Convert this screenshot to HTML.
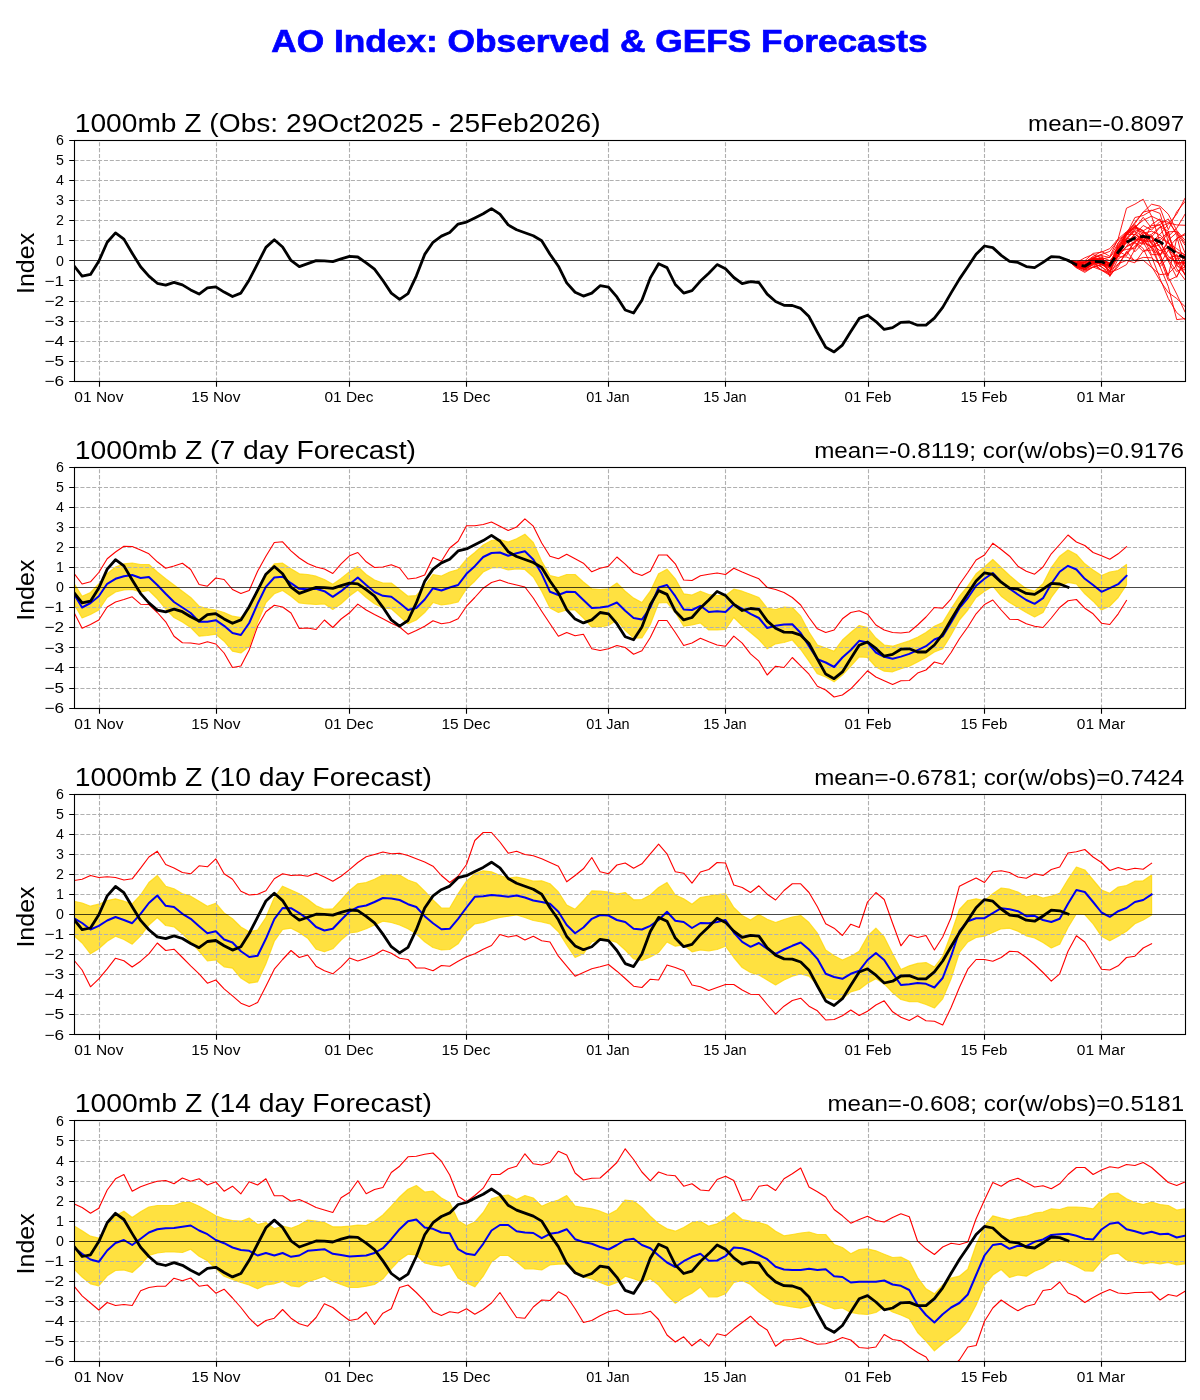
<!DOCTYPE html>
<html><head><meta charset="utf-8"><title>AO Index</title><style>html,body{margin:0;padding:0;background:#fff}svg{display:block;will-change:transform}</style></head><body>
<svg width="1200" height="1400" viewBox="0 0 1200 1400" font-family="'Liberation Sans', sans-serif">
<rect width="1200" height="1400" fill="#fff"/>
<defs>
<clipPath id="c0"><rect x="74.5" y="140.0" width="1111.0" height="240.8"/></clipPath>
<clipPath id="c1"><rect x="74.5" y="466.8" width="1111.0" height="240.8"/></clipPath>
<clipPath id="c2"><rect x="74.5" y="793.6" width="1111.0" height="240.8"/></clipPath>
<clipPath id="c3"><rect x="74.5" y="1120.4" width="1111.0" height="240.8"/></clipPath>
</defs>
<text x="599.50" y="51.50" font-size="32.08" text-anchor="middle" textLength="656.4" lengthAdjust="spacingAndGlyphs" fill="#0000ff" font-weight="bold" stroke="#0000ff" stroke-width="0.7">AO Index: Observed &amp; GEFS Forecasts</text>
<g clip-path="url(#c0)">
</g>
<path d="M74.5 361.50H1185.5M74.5 341.50H1185.5M74.5 321.50H1185.5M74.5 301.50H1185.5M74.5 280.50H1185.5M74.5 240.50H1185.5M74.5 220.50H1185.5M74.5 200.50H1185.5M74.5 180.50H1185.5M74.5 160.50H1185.5M99.50 381.50V140.50M216.50 381.50V140.50M349.50 381.50V140.50M466.50 381.50V140.50M608.50 381.50V140.50M725.50 381.50V140.50M868.50 381.50V140.50M984.50 381.50V140.50M1101.50 381.50V140.50" stroke="#b0b0b0" stroke-width="1.11" stroke-dasharray="4.1 1.78" fill="none"/>
<g clip-path="url(#c0)">
<polyline points="1068.0,260.4 1076.4,266.8 1084.8,266.8 1093.1,262.8 1101.5,267.0 1109.8,272.0 1118.2,256.2 1126.5,239.5 1134.9,243.3 1143.2,251.4 1151.6,247.0 1160.0,244.9 1168.3,231.9 1176.7,231.3 1185.0,242.9" fill="none" stroke="#ff0000" stroke-width="0.9" stroke-linejoin="round" stroke-linecap="square"/>
<polyline points="1068.0,260.4 1076.4,263.0 1084.8,264.0 1093.1,261.0 1101.5,264.4 1109.8,268.4 1118.2,254.4 1126.5,246.4 1134.9,241.7 1143.2,237.7 1151.6,234.3 1160.0,226.9 1168.3,231.1 1176.7,264.0 1185.0,260.6" fill="none" stroke="#ff0000" stroke-width="0.9" stroke-linejoin="round" stroke-linecap="square"/>
<polyline points="1068.0,260.4 1076.4,267.8 1084.8,272.4 1093.1,267.0 1101.5,270.2 1109.8,274.2 1118.2,244.7 1126.5,234.9 1134.9,225.7 1143.2,235.1 1151.6,240.7 1160.0,237.3 1168.3,243.5 1176.7,248.6 1185.0,255.2" fill="none" stroke="#ff0000" stroke-width="0.9" stroke-linejoin="round" stroke-linecap="square"/>
<polyline points="1068.0,260.4 1076.4,266.4 1084.8,269.4 1093.1,260.4 1101.5,261.6 1109.8,263.4 1118.2,250.0 1126.5,234.3 1134.9,234.5 1143.2,225.5 1151.6,230.1 1160.0,221.5 1168.3,221.9 1176.7,232.7 1185.0,253.0" fill="none" stroke="#ff0000" stroke-width="0.9" stroke-linejoin="round" stroke-linecap="square"/>
<polyline points="1068.0,260.4 1076.4,263.8 1084.8,261.6 1093.1,258.0 1101.5,255.6 1109.8,257.6 1118.2,243.1 1126.5,231.9 1134.9,227.3 1143.2,231.1 1151.6,243.5 1160.0,250.8 1168.3,247.6 1176.7,238.3 1185.0,234.9" fill="none" stroke="#ff0000" stroke-width="0.9" stroke-linejoin="round" stroke-linecap="square"/>
<polyline points="1068.0,260.4 1076.4,263.2 1084.8,262.4 1093.1,257.4 1101.5,254.4 1109.8,251.4 1118.2,239.9 1126.5,234.1 1134.9,217.5 1143.2,215.5 1151.6,210.6 1160.0,207.8 1168.3,229.7 1176.7,211.8 1185.0,201.6" fill="none" stroke="#ff0000" stroke-width="0.9" stroke-linejoin="round" stroke-linecap="square"/>
<polyline points="1068.0,260.4 1076.4,264.4 1084.8,265.0 1093.1,262.2 1101.5,262.6 1109.8,265.6 1118.2,246.8 1126.5,232.5 1134.9,228.7 1143.2,217.3 1151.6,228.1 1160.0,224.5 1168.3,218.9 1176.7,235.3 1185.0,268.4" fill="none" stroke="#ff0000" stroke-width="0.9" stroke-linejoin="round" stroke-linecap="square"/>
<polyline points="1068.0,260.4 1076.4,266.6 1084.8,267.2 1093.1,259.0 1101.5,261.6 1109.8,266.0 1118.2,249.6 1126.5,240.3 1134.9,251.8 1143.2,242.9 1151.6,224.5 1160.0,218.9 1168.3,236.9 1176.7,252.4 1185.0,256.8" fill="none" stroke="#ff0000" stroke-width="0.9" stroke-linejoin="round" stroke-linecap="square"/>
<polyline points="1068.0,260.4 1076.4,261.2 1084.8,260.8 1093.1,253.4 1101.5,252.2 1109.8,248.6 1118.2,238.9 1126.5,231.7 1134.9,223.7 1143.2,212.0 1151.6,210.2 1160.0,213.4 1168.3,242.1 1176.7,260.4 1185.0,274.8" fill="none" stroke="#ff0000" stroke-width="0.9" stroke-linejoin="round" stroke-linecap="square"/>
<polyline points="1068.0,260.4 1076.4,265.6 1084.8,267.6 1093.1,261.0 1101.5,260.6 1109.8,266.2 1118.2,252.2 1126.5,239.5 1134.9,229.7 1143.2,232.3 1151.6,237.5 1160.0,255.4 1168.3,240.1 1176.7,232.7 1185.0,245.1" fill="none" stroke="#ff0000" stroke-width="0.9" stroke-linejoin="round" stroke-linecap="square"/>
<polyline points="1068.0,260.4 1076.4,267.4 1084.8,269.2 1093.1,263.6 1101.5,257.4 1109.8,260.6 1118.2,251.0 1126.5,255.8 1134.9,240.1 1143.2,236.9 1151.6,254.6 1160.0,254.8 1168.3,275.7 1176.7,238.7 1185.0,233.5" fill="none" stroke="#ff0000" stroke-width="0.9" stroke-linejoin="round" stroke-linecap="square"/>
<polyline points="1068.0,260.4 1076.4,264.8 1084.8,269.8 1093.1,264.8 1101.5,270.0 1109.8,272.6 1118.2,269.2 1126.5,264.6 1134.9,249.4 1143.2,234.3 1151.6,248.2 1160.0,266.6 1168.3,258.0 1176.7,255.2 1185.0,275.0" fill="none" stroke="#ff0000" stroke-width="0.9" stroke-linejoin="round" stroke-linecap="square"/>
<polyline points="1068.0,260.4 1076.4,267.2 1084.8,271.2 1093.1,267.2 1101.5,264.6 1109.8,266.4 1118.2,242.9 1126.5,233.5 1134.9,230.9 1143.2,237.3 1151.6,241.3 1160.0,258.2 1168.3,280.5 1176.7,276.5 1185.0,261.8" fill="none" stroke="#ff0000" stroke-width="0.9" stroke-linejoin="round" stroke-linecap="square"/>
<polyline points="1068.0,260.4 1076.4,262.8 1084.8,262.8 1093.1,259.6 1101.5,259.0 1109.8,264.8 1118.2,256.8 1126.5,257.0 1134.9,260.4 1143.2,257.4 1151.6,257.8 1160.0,264.4 1168.3,250.0 1176.7,256.4 1185.0,255.8" fill="none" stroke="#ff0000" stroke-width="0.9" stroke-linejoin="round" stroke-linecap="square"/>
<polyline points="1068.0,260.4 1076.4,264.6 1084.8,269.2 1093.1,262.4 1101.5,264.6 1109.8,264.0 1118.2,249.0 1126.5,232.9 1134.9,224.5 1143.2,239.7 1151.6,235.9 1160.0,246.8 1168.3,259.2 1176.7,271.6 1185.0,266.6" fill="none" stroke="#ff0000" stroke-width="0.9" stroke-linejoin="round" stroke-linecap="square"/>
<polyline points="1068.0,260.4 1076.4,263.2 1084.8,266.6 1093.1,262.8 1101.5,270.2 1109.8,275.4 1118.2,259.0 1126.5,253.6 1134.9,246.0 1143.2,242.1 1151.6,235.5 1160.0,247.8 1168.3,261.0 1176.7,277.3 1185.0,258.4" fill="none" stroke="#ff0000" stroke-width="0.9" stroke-linejoin="round" stroke-linecap="square"/>
<polyline points="1068.0,260.4 1076.4,264.0 1084.8,264.4 1093.1,259.4 1101.5,258.6 1109.8,263.6 1118.2,251.8 1126.5,249.4 1134.9,248.2 1143.2,233.1 1151.6,231.3 1160.0,234.9 1168.3,242.9 1176.7,251.8 1185.0,254.6" fill="none" stroke="#ff0000" stroke-width="0.9" stroke-linejoin="round" stroke-linecap="square"/>
<polyline points="1068.0,260.4 1076.4,266.2 1084.8,267.2 1093.1,263.8 1101.5,266.6 1109.8,275.2 1118.2,266.6 1126.5,251.4 1134.9,261.2 1143.2,260.2 1151.6,267.4 1160.0,274.6 1168.3,273.8 1176.7,265.4 1185.0,270.0" fill="none" stroke="#ff0000" stroke-width="0.9" stroke-linejoin="round" stroke-linecap="square"/>
<polyline points="1068.0,260.4 1076.4,266.4 1084.8,268.2 1093.1,261.2 1101.5,262.4 1109.8,271.2 1118.2,263.8 1126.5,260.4 1134.9,262.8 1143.2,251.2 1151.6,250.0 1160.0,255.0 1168.3,241.5 1176.7,259.2 1185.0,256.0" fill="none" stroke="#ff0000" stroke-width="0.9" stroke-linejoin="round" stroke-linecap="square"/>
<polyline points="1068.0,260.4 1076.4,266.0 1084.8,270.2 1093.1,266.8 1101.5,265.0 1109.8,264.6 1118.2,257.0 1126.5,240.7 1134.9,238.9 1143.2,240.3 1151.6,248.0 1160.0,254.0 1168.3,277.5 1176.7,294.1 1185.0,312.0" fill="none" stroke="#ff0000" stroke-width="0.9" stroke-linejoin="round" stroke-linecap="square"/>
<polyline points="1068.0,260.4 1076.4,262.6 1084.8,257.8 1093.1,254.4 1101.5,258.4 1109.8,264.2 1118.2,255.4 1126.5,233.3 1134.9,226.1 1143.2,230.9 1151.6,225.5 1160.0,224.9 1168.3,250.0 1176.7,265.0 1185.0,273.8" fill="none" stroke="#ff0000" stroke-width="0.9" stroke-linejoin="round" stroke-linecap="square"/>
<polyline points="1068.0,260.4 1076.4,265.4 1084.8,267.2 1093.1,261.8 1101.5,263.6 1109.8,271.6 1118.2,250.8 1126.5,238.5 1134.9,231.5 1143.2,242.7 1151.6,246.8 1160.0,241.1 1168.3,260.2 1176.7,254.2 1185.0,266.4" fill="none" stroke="#ff0000" stroke-width="0.9" stroke-linejoin="round" stroke-linecap="square"/>
<polyline points="1068.0,260.4 1076.4,265.0 1084.8,265.8 1093.1,258.4 1101.5,259.2 1109.8,257.2 1118.2,247.8 1126.5,243.3 1134.9,233.9 1143.2,240.9 1151.6,247.0 1160.0,240.3 1168.3,231.5 1176.7,264.2 1185.0,263.4" fill="none" stroke="#ff0000" stroke-width="0.9" stroke-linejoin="round" stroke-linecap="square"/>
<polyline points="1068.0,260.4 1076.4,261.4 1084.8,261.8 1093.1,258.6 1101.5,259.0 1109.8,267.8 1118.2,255.6 1126.5,246.8 1134.9,242.5 1143.2,231.5 1151.6,236.7 1160.0,255.6 1168.3,246.6 1176.7,268.6 1185.0,279.7" fill="none" stroke="#ff0000" stroke-width="0.9" stroke-linejoin="round" stroke-linecap="square"/>
<polyline points="1068.0,260.4 1076.4,266.0 1084.8,269.2 1093.1,264.6 1101.5,258.6 1109.8,265.2 1118.2,252.6 1126.5,235.7 1134.9,226.9 1143.2,220.3 1151.6,216.1 1160.0,242.1 1168.3,256.4 1176.7,262.6 1185.0,262.2" fill="none" stroke="#ff0000" stroke-width="0.9" stroke-linejoin="round" stroke-linecap="square"/>
<polyline points="1068.0,260.4 1076.4,263.2 1084.8,264.0 1093.1,259.2 1101.5,259.4 1109.8,262.8 1118.2,246.2 1126.5,238.3 1134.9,239.5 1143.2,244.3 1151.6,236.9 1160.0,227.3 1168.3,222.9 1176.7,224.9 1185.0,225.3" fill="none" stroke="#ff0000" stroke-width="0.9" stroke-linejoin="round" stroke-linecap="square"/>
<polyline points="1068.0,260.4 1076.4,263.4 1084.8,262.4 1093.1,256.4 1101.5,251.4 1109.8,256.4 1118.2,238.7 1126.5,208.2 1134.9,204.2 1143.2,199.2 1151.6,216.3 1160.0,220.3 1168.3,236.3 1176.7,228.3 1185.0,214.2" fill="none" stroke="#ff0000" stroke-width="0.9" stroke-linejoin="round" stroke-linecap="square"/>
<polyline points="1068.0,260.4 1076.4,266.4 1084.8,267.4 1093.1,260.4 1101.5,262.4 1109.8,268.4 1118.2,256.4 1126.5,246.4 1134.9,234.3 1143.2,240.3 1151.6,242.3 1160.0,234.3 1168.3,224.3 1176.7,214.2 1185.0,198.2" fill="none" stroke="#ff0000" stroke-width="0.9" stroke-linejoin="round" stroke-linecap="square"/>
<polyline points="1068.0,260.4 1076.4,264.4 1084.8,266.4 1093.1,260.4 1101.5,258.4 1109.8,264.4 1118.2,248.4 1126.5,234.3 1134.9,222.3 1143.2,212.2 1151.6,204.2 1160.0,206.2 1168.3,214.2 1176.7,230.3 1185.0,240.3" fill="none" stroke="#ff0000" stroke-width="0.9" stroke-linejoin="round" stroke-linecap="square"/>
<polyline points="1068.0,260.4 1076.4,264.4 1084.8,265.4 1093.1,262.4 1101.5,264.4 1109.8,270.4 1118.2,254.4 1126.5,242.3 1134.9,236.3 1143.2,242.3 1151.6,256.4 1160.0,278.5 1168.3,298.5 1176.7,312.6 1185.0,319.6" fill="none" stroke="#ff0000" stroke-width="0.9" stroke-linejoin="round" stroke-linecap="square"/>
<polyline points="1068.0,260.4 1076.4,266.4 1084.8,269.4 1093.1,263.4 1101.5,262.4 1109.8,266.4 1118.2,250.4 1126.5,238.3 1134.9,228.3 1143.2,230.3 1151.6,244.3 1160.0,266.4 1168.3,286.5 1176.7,319.6 1185.0,318.6" fill="none" stroke="#ff0000" stroke-width="0.9" stroke-linejoin="round" stroke-linecap="square"/>
<polyline points="1068.0,260.4 1076.4,262.4 1084.8,264.4 1093.1,258.4 1101.5,254.4 1109.8,276.5 1118.2,264.4 1126.5,252.4 1134.9,242.3 1143.2,248.4 1151.6,266.4 1160.0,280.5 1168.3,292.5 1176.7,298.5 1185.0,306.6" fill="none" stroke="#ff0000" stroke-width="0.9" stroke-linejoin="round" stroke-linecap="square"/>
<path d="M74.5 260.50H1185.5" stroke="#000" stroke-width="0.72"/>
<polyline points="73.8,265.6 82.1,276.1 90.5,274.4 98.8,261.2 107.2,242.3 115.5,232.9 123.9,239.1 132.2,253.2 140.6,266.8 148.9,276.1 157.3,283.3 165.7,285.1 174.0,282.3 182.4,284.9 190.7,289.9 199.1,294.1 207.4,287.9 215.8,286.9 224.1,292.1 232.5,296.5 240.9,293.1 249.2,279.9 257.6,263.6 265.9,247.4 274.3,239.7 282.6,247.0 291.0,260.4 299.3,266.6 307.7,263.6 316.1,260.6 324.4,260.8 332.8,261.6 341.1,258.8 349.5,256.4 357.8,257.0 366.2,262.8 374.5,269.2 382.9,280.5 391.3,293.1 399.6,299.3 408.0,293.7 416.3,276.1 424.7,254.4 433.0,242.3 441.4,236.1 449.7,232.5 458.1,224.1 466.5,222.1 474.8,217.9 483.2,213.8 491.5,208.6 499.9,214.2 508.2,224.9 516.6,229.7 524.9,232.7 533.3,235.7 541.7,240.7 550.0,254.2 558.4,266.2 566.7,282.9 575.1,292.3 583.4,296.1 591.8,293.1 600.1,285.7 608.5,287.1 616.9,296.9 625.2,310.0 633.6,313.0 641.9,300.3 650.3,277.9 658.6,263.8 667.0,267.6 675.3,284.5 683.7,293.1 692.0,290.7 700.4,281.1 708.8,273.2 717.1,264.6 725.5,268.8 733.8,277.5 742.2,283.7 750.5,281.7 758.9,282.5 767.2,294.1 775.6,301.5 784.0,305.3 792.3,305.5 800.7,308.4 809.0,316.6 817.4,332.4 825.7,347.3 834.1,351.9 842.4,345.1 850.8,331.6 859.2,318.4 867.5,315.2 875.9,321.6 884.2,329.4 892.6,327.6 900.9,322.4 909.3,322.0 917.6,325.2 926.0,325.2 934.4,318.2 942.7,307.4 951.1,292.9 959.4,279.1 967.8,266.8 976.1,254.2 984.5,246.0 992.8,247.6 1001.2,255.4 1009.6,261.4 1017.9,262.4 1026.3,266.6 1034.6,267.6 1043.0,262.4 1051.3,256.6 1059.7,257.2 1068.0,260.4" fill="none" stroke="#000" stroke-width="2.8" stroke-linejoin="round" stroke-linecap="square"/>
<polyline points="1068.0,260.4 1076.4,264.8 1084.8,266.2 1093.1,261.2 1101.5,261.8 1109.8,265.4 1118.2,252.0 1126.5,242.3 1134.9,237.9 1143.2,236.3 1151.6,237.9 1160.0,241.9 1168.3,247.4 1176.7,253.6 1185.0,258.0" fill="none" stroke="#000" stroke-width="2.8" stroke-linejoin="round" stroke-dasharray="10.3 4.45"/>
</g>
 <rect x="74.5" y="140.5" width="1111.0" height="241.0" fill="none" stroke="#000" stroke-width="1.11"/>
<path d="M74.0 381.50h-4.8M74.0 361.50h-4.8M74.0 341.50h-4.8M74.0 321.50h-4.8M74.0 301.50h-4.8M74.0 280.50h-4.8M74.0 260.50h-4.8M74.0 240.50h-4.8M74.0 220.50h-4.8M74.0 200.50h-4.8M74.0 180.50h-4.8M74.0 160.50h-4.8M74.0 140.50h-4.8M99.50 382.00v4.8M216.50 382.00v4.8M349.50 382.00v4.8M466.50 382.00v4.8M608.50 382.00v4.8M725.50 382.00v4.8M868.50 382.00v4.8M984.50 382.00v4.8M1101.50 382.00v4.8" stroke="#000" stroke-width="1.11" fill="none"/>
<text x="64.00" y="385.90" font-size="14.58" text-anchor="end" textLength="19.6" lengthAdjust="spacingAndGlyphs" fill="#000">−6</text>
<text x="64.00" y="365.83" font-size="14.58" text-anchor="end" textLength="19.6" lengthAdjust="spacingAndGlyphs" fill="#000">−5</text>
<text x="64.00" y="345.77" font-size="14.58" text-anchor="end" textLength="19.6" lengthAdjust="spacingAndGlyphs" fill="#000">−4</text>
<text x="64.00" y="325.70" font-size="14.58" text-anchor="end" textLength="19.6" lengthAdjust="spacingAndGlyphs" fill="#000">−3</text>
<text x="64.00" y="305.63" font-size="14.58" text-anchor="end" textLength="19.6" lengthAdjust="spacingAndGlyphs" fill="#000">−2</text>
<text x="64.00" y="285.57" font-size="14.58" text-anchor="end" textLength="19.6" lengthAdjust="spacingAndGlyphs" fill="#000">−1</text>
<text x="64.00" y="265.50" font-size="14.58" text-anchor="end" textLength="7.9" lengthAdjust="spacingAndGlyphs" fill="#000">0</text>
<text x="64.00" y="245.43" font-size="14.58" text-anchor="end" textLength="7.9" lengthAdjust="spacingAndGlyphs" fill="#000">1</text>
<text x="64.00" y="225.37" font-size="14.58" text-anchor="end" textLength="7.9" lengthAdjust="spacingAndGlyphs" fill="#000">2</text>
<text x="64.00" y="205.30" font-size="14.58" text-anchor="end" textLength="7.9" lengthAdjust="spacingAndGlyphs" fill="#000">3</text>
<text x="64.00" y="185.23" font-size="14.58" text-anchor="end" textLength="7.9" lengthAdjust="spacingAndGlyphs" fill="#000">4</text>
<text x="64.00" y="165.17" font-size="14.58" text-anchor="end" textLength="7.9" lengthAdjust="spacingAndGlyphs" fill="#000">5</text>
<text x="64.00" y="145.10" font-size="14.58" text-anchor="end" textLength="7.9" lengthAdjust="spacingAndGlyphs" fill="#000">6</text>
<text x="98.90" y="402.10" font-size="14.58" text-anchor="middle" textLength="49.2" lengthAdjust="spacingAndGlyphs" fill="#000">01 Nov</text>
<text x="215.90" y="402.10" font-size="14.58" text-anchor="middle" textLength="49.2" lengthAdjust="spacingAndGlyphs" fill="#000">15 Nov</text>
<text x="348.90" y="402.10" font-size="14.58" text-anchor="middle" textLength="49.0" lengthAdjust="spacingAndGlyphs" fill="#000">01 Dec</text>
<text x="465.90" y="402.10" font-size="14.58" text-anchor="middle" textLength="49.0" lengthAdjust="spacingAndGlyphs" fill="#000">15 Dec</text>
<text x="607.90" y="402.10" font-size="14.58" text-anchor="middle" textLength="43.5" lengthAdjust="spacingAndGlyphs" fill="#000">01 Jan</text>
<text x="724.90" y="402.10" font-size="14.58" text-anchor="middle" textLength="43.5" lengthAdjust="spacingAndGlyphs" fill="#000">15 Jan</text>
<text x="867.90" y="402.10" font-size="14.58" text-anchor="middle" textLength="46.7" lengthAdjust="spacingAndGlyphs" fill="#000">01 Feb</text>
<text x="983.90" y="402.10" font-size="14.58" text-anchor="middle" textLength="46.7" lengthAdjust="spacingAndGlyphs" fill="#000">15 Feb</text>
<text x="1100.90" y="402.10" font-size="14.58" text-anchor="middle" textLength="48.3" lengthAdjust="spacingAndGlyphs" fill="#000">01 Mar</text>
<text x="34.20" y="263.40" font-size="23.33" text-anchor="middle" textLength="61.2" lengthAdjust="spacingAndGlyphs" fill="#000" transform="rotate(-90 34.20 263.40)">Index</text>
<text x="74.80" y="131.80" font-size="26.25" text-anchor="start" textLength="525.8" lengthAdjust="spacingAndGlyphs" fill="#000">1000mb Z (Obs: 29Oct2025 - 25Feb2026)</text>
<text x="1184.10" y="131.30" font-size="21.88" text-anchor="end" textLength="156.0" lengthAdjust="spacingAndGlyphs" fill="#000">mean=-0.8097</text>
<g clip-path="url(#c1)">
<polygon points="73.8,583.0 82.1,596.2 90.5,592.5 98.8,583.8 107.2,573.8 115.5,567.0 123.9,563.8 132.2,563.0 140.6,564.5 148.9,564.5 157.3,572.0 165.7,578.8 174.0,585.0 182.4,591.2 190.7,597.5 199.1,606.2 207.4,608.8 215.8,610.0 224.1,612.5 232.5,616.2 240.9,617.5 249.2,608.8 257.6,590.0 265.9,573.8 274.3,563.8 282.6,563.2 291.0,568.8 299.3,573.8 307.7,574.5 316.1,576.2 324.4,579.5 332.8,584.2 341.1,578.4 349.5,571.6 357.8,566.6 366.2,574.5 374.5,580.0 382.9,583.0 391.3,583.0 399.6,589.5 408.0,596.2 416.3,595.5 424.7,586.2 433.0,574.5 441.4,576.0 449.7,572.0 458.1,569.5 466.5,559.2 474.8,552.5 483.2,545.0 491.5,540.5 499.9,539.5 508.2,542.0 516.6,538.8 524.9,534.2 533.3,542.5 541.7,561.2 550.0,575.5 558.4,577.5 566.7,574.5 575.1,574.5 583.4,582.0 591.8,588.8 600.1,589.5 608.5,588.8 616.9,583.0 625.2,591.2 633.6,598.1 641.9,602.5 650.3,591.2 658.6,573.8 667.0,569.2 675.3,578.8 683.7,593.8 692.0,595.0 700.4,591.2 708.8,594.5 717.1,595.5 725.5,595.5 733.8,589.2 742.2,591.2 750.5,594.2 758.9,597.5 767.2,608.2 775.6,609.5 784.0,607.0 792.3,607.5 800.7,616.2 809.0,632.0 817.4,645.0 825.7,648.0 834.1,651.2 842.4,640.0 850.8,632.5 859.2,625.5 867.5,627.5 875.9,638.0 884.2,645.0 892.6,646.2 900.9,643.5 909.3,640.9 917.6,637.2 926.0,632.5 934.4,626.2 942.7,622.5 951.1,608.8 959.4,596.2 967.8,586.2 976.1,573.8 984.5,567.0 992.8,559.5 1001.2,567.5 1009.6,575.5 1017.9,582.5 1026.3,588.8 1034.6,591.2 1043.0,583.8 1051.3,567.5 1059.7,556.2 1068.0,550.0 1076.4,554.5 1084.8,563.8 1093.1,570.0 1101.5,575.5 1109.8,572.0 1118.2,570.5 1126.5,564.5 1126.5,585.0 1118.2,597.5 1109.8,606.2 1101.5,610.0 1093.1,601.2 1084.8,593.8 1076.4,583.8 1068.0,582.5 1059.7,586.2 1051.3,597.5 1043.0,612.5 1034.6,617.0 1026.3,612.5 1017.9,607.5 1009.6,602.5 1001.2,596.2 992.8,586.2 984.5,591.2 976.1,597.5 967.8,610.0 959.4,620.0 951.1,635.0 942.7,648.8 934.4,652.0 926.0,657.5 917.6,662.0 909.3,666.2 900.9,668.8 892.6,671.8 884.2,671.2 875.9,667.0 867.5,657.5 859.2,656.8 850.8,666.2 842.4,675.0 834.1,681.8 825.7,677.0 817.4,673.8 809.0,661.2 800.7,649.5 792.3,640.0 784.0,642.5 775.6,643.8 767.2,648.8 758.9,639.5 750.5,632.5 742.2,625.8 733.8,617.5 725.5,629.5 717.1,630.0 708.8,630.0 700.4,623.0 692.0,625.0 683.7,626.2 675.3,612.5 667.0,602.5 658.6,603.0 650.3,624.5 641.9,638.0 633.6,638.1 625.2,630.4 616.9,620.0 608.5,625.5 600.1,627.0 591.8,627.0 583.4,618.0 575.1,610.0 566.7,610.0 558.4,612.5 550.0,608.0 541.7,591.2 533.3,577.0 524.9,569.5 516.6,568.8 508.2,570.0 499.9,567.5 491.5,568.0 483.2,572.0 474.8,581.2 466.5,588.8 458.1,602.0 449.7,603.8 441.4,605.0 433.0,602.5 424.7,612.5 416.3,620.0 408.0,623.8 399.6,616.2 391.3,608.8 382.9,608.0 374.5,603.8 366.2,597.5 357.8,590.0 349.5,596.0 341.1,603.8 332.8,609.5 324.4,603.8 316.1,604.5 307.7,603.8 299.3,603.0 291.0,596.2 282.6,590.5 274.3,593.8 265.9,602.5 257.6,622.5 249.2,646.2 240.9,653.0 232.5,651.2 224.1,641.2 215.8,634.2 207.4,635.5 199.1,636.2 190.7,627.5 182.4,622.0 174.0,617.5 165.7,608.8 157.3,598.8 148.9,590.5 140.6,592.0 132.2,589.5 123.9,590.0 115.5,592.0 107.2,597.5 98.8,610.0 90.5,614.5 82.1,618.0 73.8,603.8" fill="#ffd700" fill-opacity="0.75" stroke="#ffd700" stroke-opacity="0.75" stroke-width="1.2" stroke-linejoin="round"/>
</g>
<path d="M74.5 688.50H1185.5M74.5 667.50H1185.5M74.5 647.50H1185.5M74.5 627.50H1185.5M74.5 607.50H1185.5M74.5 567.50H1185.5M74.5 547.50H1185.5M74.5 527.50H1185.5M74.5 507.50H1185.5M74.5 487.50H1185.5M99.50 708.50V467.50M216.50 708.50V467.50M349.50 708.50V467.50M466.50 708.50V467.50M608.50 708.50V467.50M725.50 708.50V467.50M868.50 708.50V467.50M984.50 708.50V467.50M1101.50 708.50V467.50" stroke="#b0b0b0" stroke-width="1.11" stroke-dasharray="4.1 1.78" fill="none"/>
<g clip-path="url(#c1)">
<polyline points="73.8,573.0 82.1,584.0 90.5,581.8 98.8,572.5 107.2,558.8 115.5,552.0 123.9,546.2 132.2,546.5 140.6,550.0 148.9,553.8 157.3,561.8 165.7,568.2 174.0,566.0 182.4,563.2 190.7,569.5 199.1,584.5 207.4,586.2 215.8,578.0 224.1,579.5 232.5,589.5 240.9,593.5 249.2,590.5 257.6,571.2 265.9,556.2 274.3,542.5 282.6,541.8 291.0,550.8 299.3,558.0 307.7,563.5 316.1,567.0 324.4,569.0 332.8,573.5 341.1,563.8 349.5,555.8 357.8,552.5 366.2,561.8 374.5,567.5 382.9,567.0 391.3,564.8 399.6,568.0 408.0,579.0 416.3,578.0 424.7,575.0 433.0,557.5 441.4,561.2 449.7,548.0 458.1,541.2 466.5,525.8 474.8,525.8 483.2,524.5 491.5,522.0 499.9,526.2 508.2,530.5 516.6,527.0 524.9,518.8 533.3,526.2 541.7,543.0 550.0,556.2 558.4,558.8 566.7,554.2 575.1,558.8 583.4,563.2 591.8,571.8 600.1,568.2 608.5,566.2 616.9,557.0 625.2,564.1 633.6,572.5 641.9,575.5 650.3,571.2 658.6,555.0 667.0,555.0 675.3,563.8 683.7,580.0 692.0,580.5 700.4,575.8 708.8,574.2 717.1,573.0 725.5,574.5 733.8,568.2 742.2,572.0 750.5,575.5 758.9,578.8 767.2,587.5 775.6,589.5 784.0,592.5 792.3,597.5 800.7,605.0 809.0,617.5 817.4,628.8 825.7,632.5 834.1,630.0 842.4,618.8 850.8,612.5 859.2,610.8 867.5,614.2 875.9,625.0 884.2,630.0 892.6,632.5 900.9,633.0 909.3,632.0 917.6,625.0 926.0,617.0 934.4,607.5 942.7,608.2 951.1,598.8 959.4,584.5 967.8,572.5 976.1,560.0 984.5,555.0 992.8,543.2 1001.2,549.5 1009.6,556.2 1017.9,566.2 1026.3,571.2 1034.6,574.2 1043.0,567.0 1051.3,553.8 1059.7,544.5 1068.0,535.0 1076.4,542.0 1084.8,545.5 1093.1,552.5 1101.5,555.8 1109.8,559.2 1118.2,553.8 1126.5,546.8" fill="none" stroke="#ff0000" stroke-width="1.1" stroke-linejoin="round" stroke-linecap="square"/>
<polyline points="73.8,612.0 82.1,628.2 90.5,624.5 98.8,620.0 107.2,607.0 115.5,602.0 123.9,599.5 132.2,596.8 140.6,604.2 148.9,604.5 157.3,612.5 165.7,621.8 174.0,636.2 182.4,642.8 190.7,643.0 199.1,644.2 207.4,641.8 215.8,644.0 224.1,653.0 232.5,667.5 240.9,666.0 249.2,650.0 257.6,626.2 265.9,611.8 274.3,605.2 282.6,607.0 291.0,613.0 299.3,628.5 307.7,628.0 316.1,629.5 324.4,620.0 332.8,627.5 341.1,619.0 349.5,612.8 357.8,604.1 366.2,610.0 374.5,614.5 382.9,618.8 391.3,623.2 399.6,627.0 408.0,634.2 416.3,630.5 424.7,626.2 433.0,620.8 441.4,623.8 449.7,622.5 458.1,618.8 466.5,606.2 474.8,597.5 483.2,588.2 491.5,582.5 499.9,580.0 508.2,583.0 516.6,585.0 524.9,587.0 533.3,598.0 541.7,611.2 550.0,623.8 558.4,636.2 566.7,632.5 575.1,635.8 583.4,634.2 591.8,648.8 600.1,650.5 608.5,648.8 616.9,645.5 625.2,647.5 633.6,654.2 641.9,650.8 650.3,637.5 658.6,620.5 667.0,620.5 675.3,632.5 683.7,645.5 692.0,643.0 700.4,638.2 708.8,641.8 717.1,645.0 725.5,646.2 733.8,636.2 742.2,643.2 750.5,653.8 758.9,661.2 767.2,675.0 775.6,666.2 784.0,667.5 792.3,657.5 800.7,665.8 809.0,674.2 817.4,686.2 825.7,690.0 834.1,697.0 842.4,695.0 850.8,688.8 859.2,680.0 867.5,670.8 875.9,677.0 884.2,680.8 892.6,684.5 900.9,680.8 909.3,680.5 917.6,673.1 926.0,670.0 934.4,662.0 942.7,664.2 951.1,652.5 959.4,638.8 967.8,627.0 976.1,613.8 984.5,604.5 992.8,600.0 1001.2,610.0 1009.6,619.2 1017.9,619.5 1026.3,623.8 1034.6,626.2 1043.0,627.5 1051.3,618.0 1059.7,607.5 1068.0,600.8 1076.4,599.5 1084.8,608.2 1093.1,613.8 1101.5,623.2 1109.8,624.5 1118.2,613.8 1126.5,600.5" fill="none" stroke="#ff0000" stroke-width="1.1" stroke-linejoin="round" stroke-linecap="square"/>
<polyline points="73.8,593.8 82.1,607.5 90.5,603.0 98.8,596.2 107.2,583.8 115.5,578.8 123.9,576.2 132.2,575.0 140.6,578.0 148.9,577.0 157.3,585.0 165.7,593.8 174.0,602.0 182.4,607.5 190.7,613.0 199.1,621.8 207.4,621.8 215.8,620.2 224.1,625.8 232.5,633.0 240.9,635.0 249.2,623.0 257.6,603.8 265.9,586.8 274.3,577.5 282.6,576.8 291.0,583.2 299.3,588.8 307.7,589.2 316.1,588.8 324.4,591.2 332.8,596.8 341.1,591.2 349.5,584.2 357.8,577.5 366.2,585.0 374.5,592.0 382.9,595.8 391.3,596.8 399.6,603.0 408.0,610.0 416.3,608.0 424.7,599.5 433.0,588.2 441.4,590.5 449.7,587.5 458.1,585.0 466.5,573.8 474.8,566.2 483.2,557.0 491.5,553.0 499.9,552.5 508.2,555.8 516.6,553.2 524.9,551.2 533.3,559.5 541.7,573.8 550.0,591.8 558.4,595.0 566.7,591.8 575.1,592.0 583.4,600.0 591.8,608.0 600.1,607.5 608.5,606.2 616.9,602.5 625.2,610.8 633.6,618.0 641.9,619.5 650.3,607.5 658.6,587.5 667.0,585.0 675.3,596.2 683.7,609.5 692.0,610.0 700.4,605.8 708.8,612.0 717.1,611.2 725.5,612.0 733.8,604.2 742.2,608.8 750.5,613.8 758.9,618.0 767.2,628.0 775.6,625.8 784.0,624.5 792.3,624.2 800.7,633.0 809.0,646.2 817.4,659.2 825.7,662.5 834.1,667.0 842.4,657.5 850.8,650.0 859.2,640.8 867.5,642.5 875.9,652.5 884.2,656.8 892.6,658.8 900.9,656.6 909.3,653.9 917.6,650.1 926.0,646.2 934.4,639.5 942.7,636.2 951.1,622.5 959.4,608.2 967.8,598.0 976.1,585.8 984.5,578.8 992.8,573.0 1001.2,582.0 1009.6,588.8 1017.9,594.5 1026.3,600.0 1034.6,603.8 1043.0,598.2 1051.3,583.8 1059.7,571.8 1068.0,565.8 1076.4,569.5 1084.8,578.8 1093.1,585.0 1101.5,591.8 1109.8,588.2 1118.2,584.2 1126.5,575.8" fill="none" stroke="#0000f0" stroke-width="2.0" stroke-linejoin="round" stroke-linecap="square"/>
<path d="M74.5 587.50H1185.5" stroke="#000" stroke-width="0.72"/>
<polyline points="73.8,592.4 82.1,602.9 90.5,601.2 98.8,588.0 107.2,569.1 115.5,559.7 123.9,565.9 132.2,580.0 140.6,593.6 148.9,602.9 157.3,610.1 165.7,611.9 174.0,609.1 182.4,611.7 190.7,616.7 199.1,620.9 207.4,614.7 215.8,613.7 224.1,618.9 232.5,623.3 240.9,619.9 249.2,606.7 257.6,590.4 265.9,574.2 274.3,566.5 282.6,573.8 291.0,587.2 299.3,593.4 307.7,590.4 316.1,587.4 324.4,587.6 332.8,588.4 341.1,585.6 349.5,583.2 357.8,583.8 366.2,589.6 374.5,596.0 382.9,607.3 391.3,619.9 399.6,626.1 408.0,620.5 416.3,602.9 424.7,581.2 433.0,569.1 441.4,562.9 449.7,559.3 458.1,550.9 466.5,548.9 474.8,544.7 483.2,540.6 491.5,535.4 499.9,541.0 508.2,551.7 516.6,556.5 524.9,559.5 533.3,562.5 541.7,567.5 550.0,581.0 558.4,593.0 566.7,609.7 575.1,619.1 583.4,622.9 591.8,619.9 600.1,612.5 608.5,613.9 616.9,623.7 625.2,636.8 633.6,639.8 641.9,627.1 650.3,604.7 658.6,590.6 667.0,594.4 675.3,611.3 683.7,619.9 692.0,617.5 700.4,607.9 708.8,600.0 717.1,591.4 725.5,595.6 733.8,604.3 742.2,610.5 750.5,608.5 758.9,609.3 767.2,620.9 775.6,628.3 784.0,632.1 792.3,632.4 800.7,635.2 809.0,643.4 817.4,659.2 825.7,674.1 834.1,678.7 842.4,671.9 850.8,658.4 859.2,645.2 867.5,642.0 875.9,648.4 884.2,656.2 892.6,654.4 900.9,649.2 909.3,648.8 917.6,652.0 926.0,652.0 934.4,645.0 942.7,634.2 951.1,619.7 959.4,605.9 967.8,593.6 976.1,581.0 984.5,572.8 992.8,574.4 1001.2,582.2 1009.6,588.2 1017.9,589.2 1026.3,593.4 1034.6,594.4 1043.0,589.2 1051.3,583.4 1059.7,584.0 1068.0,587.2" fill="none" stroke="#000" stroke-width="2.8" stroke-linejoin="round" stroke-linecap="square"/>
</g>
 <rect x="74.5" y="467.5" width="1111.0" height="241.0" fill="none" stroke="#000" stroke-width="1.11"/>
<path d="M74.0 708.50h-4.8M74.0 688.50h-4.8M74.0 667.50h-4.8M74.0 647.50h-4.8M74.0 627.50h-4.8M74.0 607.50h-4.8M74.0 587.50h-4.8M74.0 567.50h-4.8M74.0 547.50h-4.8M74.0 527.50h-4.8M74.0 507.50h-4.8M74.0 487.50h-4.8M74.0 467.50h-4.8M99.50 709.00v4.8M216.50 709.00v4.8M349.50 709.00v4.8M466.50 709.00v4.8M608.50 709.00v4.8M725.50 709.00v4.8M868.50 709.00v4.8M984.50 709.00v4.8M1101.50 709.00v4.8" stroke="#000" stroke-width="1.11" fill="none"/>
<text x="64.00" y="712.70" font-size="14.58" text-anchor="end" textLength="19.6" lengthAdjust="spacingAndGlyphs" fill="#000">−6</text>
<text x="64.00" y="692.63" font-size="14.58" text-anchor="end" textLength="19.6" lengthAdjust="spacingAndGlyphs" fill="#000">−5</text>
<text x="64.00" y="672.57" font-size="14.58" text-anchor="end" textLength="19.6" lengthAdjust="spacingAndGlyphs" fill="#000">−4</text>
<text x="64.00" y="652.50" font-size="14.58" text-anchor="end" textLength="19.6" lengthAdjust="spacingAndGlyphs" fill="#000">−3</text>
<text x="64.00" y="632.43" font-size="14.58" text-anchor="end" textLength="19.6" lengthAdjust="spacingAndGlyphs" fill="#000">−2</text>
<text x="64.00" y="612.37" font-size="14.58" text-anchor="end" textLength="19.6" lengthAdjust="spacingAndGlyphs" fill="#000">−1</text>
<text x="64.00" y="592.30" font-size="14.58" text-anchor="end" textLength="7.9" lengthAdjust="spacingAndGlyphs" fill="#000">0</text>
<text x="64.00" y="572.23" font-size="14.58" text-anchor="end" textLength="7.9" lengthAdjust="spacingAndGlyphs" fill="#000">1</text>
<text x="64.00" y="552.17" font-size="14.58" text-anchor="end" textLength="7.9" lengthAdjust="spacingAndGlyphs" fill="#000">2</text>
<text x="64.00" y="532.10" font-size="14.58" text-anchor="end" textLength="7.9" lengthAdjust="spacingAndGlyphs" fill="#000">3</text>
<text x="64.00" y="512.03" font-size="14.58" text-anchor="end" textLength="7.9" lengthAdjust="spacingAndGlyphs" fill="#000">4</text>
<text x="64.00" y="491.97" font-size="14.58" text-anchor="end" textLength="7.9" lengthAdjust="spacingAndGlyphs" fill="#000">5</text>
<text x="64.00" y="471.90" font-size="14.58" text-anchor="end" textLength="7.9" lengthAdjust="spacingAndGlyphs" fill="#000">6</text>
<text x="98.90" y="729.10" font-size="14.58" text-anchor="middle" textLength="49.2" lengthAdjust="spacingAndGlyphs" fill="#000">01 Nov</text>
<text x="215.90" y="729.10" font-size="14.58" text-anchor="middle" textLength="49.2" lengthAdjust="spacingAndGlyphs" fill="#000">15 Nov</text>
<text x="348.90" y="729.10" font-size="14.58" text-anchor="middle" textLength="49.0" lengthAdjust="spacingAndGlyphs" fill="#000">01 Dec</text>
<text x="465.90" y="729.10" font-size="14.58" text-anchor="middle" textLength="49.0" lengthAdjust="spacingAndGlyphs" fill="#000">15 Dec</text>
<text x="607.90" y="729.10" font-size="14.58" text-anchor="middle" textLength="43.5" lengthAdjust="spacingAndGlyphs" fill="#000">01 Jan</text>
<text x="724.90" y="729.10" font-size="14.58" text-anchor="middle" textLength="43.5" lengthAdjust="spacingAndGlyphs" fill="#000">15 Jan</text>
<text x="867.90" y="729.10" font-size="14.58" text-anchor="middle" textLength="46.7" lengthAdjust="spacingAndGlyphs" fill="#000">01 Feb</text>
<text x="983.90" y="729.10" font-size="14.58" text-anchor="middle" textLength="46.7" lengthAdjust="spacingAndGlyphs" fill="#000">15 Feb</text>
<text x="1100.90" y="729.10" font-size="14.58" text-anchor="middle" textLength="48.3" lengthAdjust="spacingAndGlyphs" fill="#000">01 Mar</text>
<text x="34.20" y="590.20" font-size="23.33" text-anchor="middle" textLength="61.2" lengthAdjust="spacingAndGlyphs" fill="#000" transform="rotate(-90 34.20 590.20)">Index</text>
<text x="74.80" y="458.80" font-size="26.25" text-anchor="start" textLength="341.2" lengthAdjust="spacingAndGlyphs" fill="#000">1000mb Z (7 day Forecast)</text>
<text x="1184.10" y="458.30" font-size="21.88" text-anchor="end" textLength="369.9" lengthAdjust="spacingAndGlyphs" fill="#000">mean=-0.8119; cor(w/obs)=0.9176</text>
<g clip-path="url(#c2)">
<polygon points="73.8,901.2 82.1,903.0 90.5,906.2 98.8,904.2 107.2,900.5 115.5,898.8 123.9,901.2 132.2,903.8 140.6,895.0 148.9,882.5 157.3,875.5 165.7,886.2 174.0,888.8 182.4,893.8 190.7,896.2 199.1,901.2 207.4,906.2 215.8,903.2 224.1,913.0 232.5,918.8 240.9,927.0 249.2,931.8 257.6,930.0 265.9,917.5 274.3,897.5 282.6,886.2 291.0,890.0 299.3,893.8 307.7,899.2 316.1,905.8 324.4,909.2 332.8,908.8 341.1,900.0 349.5,890.6 357.8,883.8 366.2,882.5 374.5,879.2 382.9,875.0 391.3,874.5 399.6,875.0 408.0,880.0 416.3,883.0 424.7,891.2 433.0,900.0 441.4,908.0 449.7,908.0 458.1,893.8 466.5,881.2 474.8,873.8 483.2,870.8 491.5,871.8 499.9,875.5 508.2,878.2 516.6,877.0 524.9,878.8 533.3,881.2 541.7,880.8 550.0,883.8 558.4,892.0 566.7,905.0 575.1,909.2 583.4,900.5 591.8,890.8 600.1,891.2 608.5,892.0 616.9,894.2 625.2,892.5 633.6,899.8 641.9,899.5 650.3,895.0 658.6,887.5 667.0,882.5 675.3,895.0 683.7,898.8 692.0,904.2 700.4,897.5 708.8,896.2 717.1,894.5 725.5,893.8 733.8,907.5 742.2,915.5 750.5,920.0 758.9,914.5 767.2,919.2 775.6,922.5 784.0,919.5 792.3,917.0 800.7,915.5 809.0,922.5 817.4,933.2 825.7,950.0 834.1,955.8 842.4,960.0 850.8,956.2 859.2,951.2 867.5,936.2 875.9,928.2 884.2,937.0 892.6,953.8 900.9,969.5 909.3,965.8 917.6,963.4 926.0,962.5 934.4,967.0 942.7,956.2 951.1,933.8 959.4,909.5 967.8,900.5 976.1,898.8 984.5,900.5 992.8,893.8 1001.2,888.0 1009.6,889.2 1017.9,892.0 1026.3,897.0 1034.6,895.0 1043.0,898.0 1051.3,896.2 1059.7,893.2 1068.0,879.5 1076.4,867.0 1084.8,870.0 1093.1,880.0 1101.5,890.0 1109.8,893.2 1118.2,887.0 1126.5,885.5 1134.9,881.2 1143.2,880.8 1151.6,875.0 1151.6,915.0 1143.2,920.0 1134.9,923.8 1126.5,931.2 1118.2,936.2 1109.8,940.8 1101.5,936.2 1093.1,923.8 1084.8,914.5 1076.4,913.8 1068.0,927.5 1059.7,944.2 1051.3,948.0 1043.0,942.5 1034.6,938.0 1026.3,935.8 1017.9,931.2 1009.6,928.2 1001.2,928.8 992.8,932.5 984.5,936.2 976.1,937.5 967.8,942.0 959.4,952.5 951.1,978.8 942.7,998.8 934.4,1008.0 926.0,1004.5 917.6,1001.6 909.3,1001.6 900.9,999.5 892.6,992.5 884.2,983.8 875.9,978.8 867.5,983.2 859.2,989.5 850.8,991.8 842.4,998.8 834.1,999.5 825.7,997.5 817.4,985.0 809.0,976.2 800.7,973.8 792.3,976.2 784.0,980.0 775.6,985.0 767.2,980.0 758.9,975.0 750.5,972.5 742.2,967.5 733.8,957.5 725.5,946.2 717.1,949.5 708.8,950.8 700.4,950.0 692.0,951.8 683.7,945.0 675.3,946.2 667.0,942.0 658.6,952.5 650.3,957.0 641.9,960.5 633.6,958.8 625.2,950.0 616.9,942.5 608.5,940.0 600.1,939.5 591.8,942.0 583.4,953.8 575.1,957.5 566.7,945.0 558.4,931.8 550.0,923.8 541.7,922.0 533.3,920.5 524.9,917.5 516.6,915.0 508.2,916.2 499.9,917.5 491.5,919.5 483.2,922.5 474.8,923.8 466.5,931.2 458.1,943.8 449.7,949.5 441.4,950.0 433.0,947.5 424.7,941.8 416.3,933.8 408.0,928.8 399.6,925.0 391.3,922.5 382.9,921.2 374.5,925.0 366.2,928.8 357.8,931.8 349.5,933.0 341.1,940.0 332.8,948.8 324.4,951.8 316.1,949.2 307.7,938.2 299.3,932.5 291.0,928.2 282.6,929.5 274.3,941.2 265.9,963.8 257.6,981.8 249.2,983.2 240.9,978.0 232.5,968.2 224.1,966.8 215.8,960.0 207.4,960.8 199.1,951.2 190.7,941.8 182.4,933.8 174.0,926.8 165.7,925.5 157.3,917.5 148.9,925.0 140.6,935.8 132.2,944.2 123.9,939.5 115.5,936.2 107.2,941.2 98.8,948.8 90.5,953.8 82.1,943.0 73.8,935.5" fill="#ffd700" fill-opacity="0.75" stroke="#ffd700" stroke-opacity="0.75" stroke-width="1.2" stroke-linejoin="round"/>
</g>
<path d="M74.5 1014.50H1185.5M74.5 994.50H1185.5M74.5 974.50H1185.5M74.5 954.50H1185.5M74.5 934.50H1185.5M74.5 894.50H1185.5M74.5 874.50H1185.5M74.5 854.50H1185.5M74.5 834.50H1185.5M74.5 814.50H1185.5M99.50 1034.50V794.50M216.50 1034.50V794.50M349.50 1034.50V794.50M466.50 1034.50V794.50M608.50 1034.50V794.50M725.50 1034.50V794.50M868.50 1034.50V794.50M984.50 1034.50V794.50M1101.50 1034.50V794.50" stroke="#b0b0b0" stroke-width="1.11" stroke-dasharray="4.1 1.78" fill="none"/>
<g clip-path="url(#c2)">
<polyline points="73.8,880.5 82.1,879.2 90.5,875.5 98.8,877.5 107.2,876.8 115.5,877.5 123.9,880.0 132.2,878.8 140.6,868.2 148.9,857.0 157.3,851.2 165.7,864.5 174.0,868.0 182.4,872.5 190.7,873.8 199.1,865.8 207.4,866.8 215.8,858.8 224.1,873.8 232.5,879.2 240.9,891.2 249.2,895.0 257.6,894.2 265.9,890.8 274.3,878.8 282.6,873.8 291.0,875.5 299.3,875.0 307.7,876.2 316.1,873.2 324.4,877.0 332.8,881.2 341.1,876.2 349.5,869.6 357.8,862.5 366.2,856.8 374.5,854.5 382.9,852.0 391.3,853.8 399.6,853.2 408.0,855.5 416.3,858.8 424.7,862.0 433.0,866.2 441.4,875.5 449.7,882.5 458.1,876.2 466.5,864.5 474.8,840.5 483.2,832.5 491.5,832.5 499.9,842.0 508.2,853.2 516.6,851.2 524.9,854.5 533.3,855.8 541.7,858.8 550.0,862.5 558.4,866.2 566.7,881.8 575.1,875.5 583.4,868.8 591.8,857.5 600.1,871.8 608.5,873.8 616.9,865.0 625.2,863.0 633.6,868.2 641.9,863.8 650.3,853.8 658.6,844.2 667.0,853.8 675.3,871.8 683.7,873.2 692.0,883.2 700.4,872.0 708.8,869.5 717.1,862.5 725.5,863.0 733.8,885.0 742.2,887.5 750.5,892.5 758.9,885.8 767.2,894.2 775.6,900.0 784.0,890.5 792.3,883.8 800.7,883.8 809.0,892.5 817.4,906.8 825.7,923.8 834.1,928.2 842.4,935.5 850.8,924.2 859.2,927.5 867.5,902.0 875.9,892.5 884.2,899.5 892.6,923.2 900.9,945.8 909.3,935.0 917.6,937.5 926.0,935.5 934.4,950.0 942.7,937.0 951.1,917.5 959.4,886.2 967.8,882.0 976.1,878.0 984.5,882.5 992.8,871.8 1001.2,870.8 1009.6,872.5 1017.9,877.0 1026.3,878.2 1034.6,873.8 1043.0,875.5 1051.3,869.5 1059.7,867.0 1068.0,853.0 1076.4,851.8 1084.8,849.5 1093.1,857.0 1101.5,862.5 1109.8,870.5 1118.2,867.5 1126.5,870.0 1134.9,868.2 1143.2,869.2 1151.6,863.2" fill="none" stroke="#ff0000" stroke-width="1.1" stroke-linejoin="round" stroke-linecap="square"/>
<polyline points="73.8,960.0 82.1,970.0 90.5,986.8 98.8,978.8 107.2,968.8 115.5,958.2 123.9,960.8 132.2,967.0 140.6,961.2 148.9,953.8 157.3,943.0 165.7,950.5 174.0,949.2 182.4,957.5 190.7,965.8 199.1,973.8 207.4,983.2 215.8,980.0 224.1,988.8 232.5,995.8 240.9,1003.2 249.2,1006.5 257.6,1002.5 265.9,986.2 274.3,969.2 282.6,959.5 291.0,950.5 299.3,957.5 307.7,955.0 316.1,966.2 324.4,970.8 332.8,973.8 341.1,966.9 349.5,958.1 357.8,961.0 366.2,958.2 374.5,955.0 382.9,950.0 391.3,953.2 399.6,958.2 408.0,959.5 416.3,968.0 424.7,968.0 433.0,970.8 441.4,965.5 449.7,966.2 458.1,961.2 466.5,956.8 474.8,953.8 483.2,949.2 491.5,945.5 499.9,934.5 508.2,937.0 516.6,935.5 524.9,940.0 533.3,936.2 541.7,940.8 550.0,942.0 558.4,956.2 566.7,966.2 575.1,976.2 583.4,972.5 591.8,968.8 600.1,966.8 608.5,964.5 616.9,971.2 625.2,978.5 633.6,986.2 641.9,987.5 650.3,979.2 658.6,980.0 667.0,965.0 675.3,967.5 683.7,970.8 692.0,985.0 700.4,986.8 708.8,990.5 717.1,987.5 725.5,984.5 733.8,984.5 742.2,990.0 750.5,994.2 758.9,994.5 767.2,1004.5 775.6,1014.2 784.0,1006.2 792.3,1000.5 800.7,998.2 809.0,1006.2 817.4,1010.8 825.7,1020.0 834.1,1019.5 842.4,1015.8 850.8,1010.0 859.2,1015.5 867.5,1011.2 875.9,1005.0 884.2,1000.8 892.6,1011.8 900.9,1017.2 909.3,1020.5 917.6,1015.8 926.0,1020.8 934.4,1021.2 942.7,1025.0 951.1,1007.5 959.4,987.5 967.8,969.2 976.1,959.5 984.5,959.5 992.8,961.2 1001.2,957.5 1009.6,951.2 1017.9,951.8 1026.3,957.5 1034.6,964.5 1043.0,972.5 1051.3,981.2 1059.7,973.8 1068.0,951.2 1076.4,935.8 1084.8,942.0 1093.1,955.0 1101.5,969.2 1109.8,970.0 1118.2,965.8 1126.5,957.5 1134.9,956.2 1143.2,948.0 1151.6,943.8" fill="none" stroke="#ff0000" stroke-width="1.1" stroke-linejoin="round" stroke-linecap="square"/>
<polyline points="73.8,918.2 82.1,923.0 90.5,929.5 98.8,925.8 107.2,920.5 115.5,917.0 123.9,920.0 132.2,923.2 140.6,913.8 148.9,903.0 157.3,895.5 165.7,905.8 174.0,907.0 182.4,913.8 190.7,918.8 199.1,926.2 207.4,933.2 215.8,931.2 224.1,939.5 232.5,942.5 240.9,951.2 249.2,957.0 257.6,955.8 265.9,938.8 274.3,919.2 282.6,908.0 291.0,908.2 299.3,913.2 307.7,918.8 316.1,927.0 324.4,930.5 332.8,928.8 341.1,920.0 349.5,911.5 357.8,907.1 366.2,905.5 374.5,902.0 382.9,898.0 391.3,898.5 399.6,900.0 408.0,904.2 416.3,907.0 424.7,916.2 433.0,923.2 441.4,929.2 449.7,928.8 458.1,918.8 466.5,907.5 474.8,896.8 483.2,896.2 491.5,895.0 499.9,895.8 508.2,896.8 516.6,895.5 524.9,897.5 533.3,900.5 541.7,902.0 550.0,903.8 558.4,911.8 566.7,925.0 575.1,933.2 583.4,927.5 591.8,918.8 600.1,915.0 608.5,915.5 616.9,920.0 625.2,922.0 633.6,928.8 641.9,929.5 650.3,925.8 658.6,920.0 667.0,911.8 675.3,920.8 683.7,922.0 692.0,928.0 700.4,923.0 708.8,923.2 717.1,922.0 725.5,920.0 733.8,932.5 742.2,941.8 750.5,946.8 758.9,943.0 767.2,948.8 775.6,953.8 784.0,949.5 792.3,945.8 800.7,942.5 809.0,949.5 817.4,958.8 825.7,973.8 834.1,977.0 842.4,978.8 850.8,973.8 859.2,970.8 867.5,960.0 875.9,953.0 884.2,960.0 892.6,973.0 900.9,985.0 909.3,984.2 917.6,983.0 926.0,983.8 934.4,987.5 942.7,978.0 951.1,956.2 959.4,931.2 967.8,921.2 976.1,918.2 984.5,918.2 992.8,913.2 1001.2,908.2 1009.6,909.2 1017.9,911.2 1026.3,916.2 1034.6,915.8 1043.0,920.0 1051.3,922.0 1059.7,918.8 1068.0,903.8 1076.4,890.0 1084.8,892.0 1093.1,902.0 1101.5,912.5 1109.8,916.8 1118.2,911.2 1126.5,908.0 1134.9,902.0 1143.2,900.0 1151.6,894.5" fill="none" stroke="#0000f0" stroke-width="2.0" stroke-linejoin="round" stroke-linecap="square"/>
<path d="M74.5 914.50H1185.5" stroke="#000" stroke-width="0.72"/>
<polyline points="73.8,919.2 82.1,929.7 90.5,928.0 98.8,914.8 107.2,895.9 115.5,886.5 123.9,892.7 132.2,906.8 140.6,920.4 148.9,929.7 157.3,936.9 165.7,938.7 174.0,935.9 182.4,938.5 190.7,943.5 199.1,947.7 207.4,941.5 215.8,940.5 224.1,945.7 232.5,950.1 240.9,946.7 249.2,933.5 257.6,917.2 265.9,901.0 274.3,893.3 282.6,900.6 291.0,914.0 299.3,920.2 307.7,917.2 316.1,914.2 324.4,914.4 332.8,915.2 341.1,912.4 349.5,910.0 357.8,910.6 366.2,916.4 374.5,922.8 382.9,934.1 391.3,946.7 399.6,952.9 408.0,947.3 416.3,929.7 424.7,908.0 433.0,895.9 441.4,889.7 449.7,886.1 458.1,877.7 466.5,875.7 474.8,871.5 483.2,867.4 491.5,862.2 499.9,867.8 508.2,878.5 516.6,883.3 524.9,886.3 533.3,889.3 541.7,894.3 550.0,907.8 558.4,919.8 566.7,936.5 575.1,945.9 583.4,949.7 591.8,946.7 600.1,939.3 608.5,940.7 616.9,950.5 625.2,963.6 633.6,966.6 641.9,953.9 650.3,931.5 658.6,917.4 667.0,921.2 675.3,938.1 683.7,946.7 692.0,944.3 700.4,934.7 708.8,926.8 717.1,918.2 725.5,922.4 733.8,931.1 742.2,937.3 750.5,935.3 758.9,936.1 767.2,947.7 775.6,955.1 784.0,958.9 792.3,959.1 800.7,962.0 809.0,970.2 817.4,986.0 825.7,1000.9 834.1,1005.5 842.4,998.7 850.8,985.2 859.2,972.0 867.5,968.8 875.9,975.2 884.2,983.0 892.6,981.2 900.9,976.0 909.3,975.6 917.6,978.8 926.0,978.8 934.4,971.8 942.7,961.0 951.1,946.5 959.4,932.7 967.8,920.4 976.1,907.8 984.5,899.6 992.8,901.2 1001.2,909.0 1009.6,915.0 1017.9,916.0 1026.3,920.2 1034.6,921.2 1043.0,916.0 1051.3,910.2 1059.7,910.8 1068.0,914.0" fill="none" stroke="#000" stroke-width="2.8" stroke-linejoin="round" stroke-linecap="square"/>
</g>
 <rect x="74.5" y="794.5" width="1111.0" height="240.0" fill="none" stroke="#000" stroke-width="1.11"/>
<path d="M74.0 1034.50h-4.8M74.0 1014.50h-4.8M74.0 994.50h-4.8M74.0 974.50h-4.8M74.0 954.50h-4.8M74.0 934.50h-4.8M74.0 914.50h-4.8M74.0 894.50h-4.8M74.0 874.50h-4.8M74.0 854.50h-4.8M74.0 834.50h-4.8M74.0 814.50h-4.8M74.0 794.50h-4.8M99.50 1035.00v4.8M216.50 1035.00v4.8M349.50 1035.00v4.8M466.50 1035.00v4.8M608.50 1035.00v4.8M725.50 1035.00v4.8M868.50 1035.00v4.8M984.50 1035.00v4.8M1101.50 1035.00v4.8" stroke="#000" stroke-width="1.11" fill="none"/>
<text x="64.00" y="1039.50" font-size="14.58" text-anchor="end" textLength="19.6" lengthAdjust="spacingAndGlyphs" fill="#000">−6</text>
<text x="64.00" y="1019.43" font-size="14.58" text-anchor="end" textLength="19.6" lengthAdjust="spacingAndGlyphs" fill="#000">−5</text>
<text x="64.00" y="999.37" font-size="14.58" text-anchor="end" textLength="19.6" lengthAdjust="spacingAndGlyphs" fill="#000">−4</text>
<text x="64.00" y="979.30" font-size="14.58" text-anchor="end" textLength="19.6" lengthAdjust="spacingAndGlyphs" fill="#000">−3</text>
<text x="64.00" y="959.23" font-size="14.58" text-anchor="end" textLength="19.6" lengthAdjust="spacingAndGlyphs" fill="#000">−2</text>
<text x="64.00" y="939.17" font-size="14.58" text-anchor="end" textLength="19.6" lengthAdjust="spacingAndGlyphs" fill="#000">−1</text>
<text x="64.00" y="919.10" font-size="14.58" text-anchor="end" textLength="7.9" lengthAdjust="spacingAndGlyphs" fill="#000">0</text>
<text x="64.00" y="899.03" font-size="14.58" text-anchor="end" textLength="7.9" lengthAdjust="spacingAndGlyphs" fill="#000">1</text>
<text x="64.00" y="878.97" font-size="14.58" text-anchor="end" textLength="7.9" lengthAdjust="spacingAndGlyphs" fill="#000">2</text>
<text x="64.00" y="858.90" font-size="14.58" text-anchor="end" textLength="7.9" lengthAdjust="spacingAndGlyphs" fill="#000">3</text>
<text x="64.00" y="838.83" font-size="14.58" text-anchor="end" textLength="7.9" lengthAdjust="spacingAndGlyphs" fill="#000">4</text>
<text x="64.00" y="818.77" font-size="14.58" text-anchor="end" textLength="7.9" lengthAdjust="spacingAndGlyphs" fill="#000">5</text>
<text x="64.00" y="798.70" font-size="14.58" text-anchor="end" textLength="7.9" lengthAdjust="spacingAndGlyphs" fill="#000">6</text>
<text x="98.90" y="1055.10" font-size="14.58" text-anchor="middle" textLength="49.2" lengthAdjust="spacingAndGlyphs" fill="#000">01 Nov</text>
<text x="215.90" y="1055.10" font-size="14.58" text-anchor="middle" textLength="49.2" lengthAdjust="spacingAndGlyphs" fill="#000">15 Nov</text>
<text x="348.90" y="1055.10" font-size="14.58" text-anchor="middle" textLength="49.0" lengthAdjust="spacingAndGlyphs" fill="#000">01 Dec</text>
<text x="465.90" y="1055.10" font-size="14.58" text-anchor="middle" textLength="49.0" lengthAdjust="spacingAndGlyphs" fill="#000">15 Dec</text>
<text x="607.90" y="1055.10" font-size="14.58" text-anchor="middle" textLength="43.5" lengthAdjust="spacingAndGlyphs" fill="#000">01 Jan</text>
<text x="724.90" y="1055.10" font-size="14.58" text-anchor="middle" textLength="43.5" lengthAdjust="spacingAndGlyphs" fill="#000">15 Jan</text>
<text x="867.90" y="1055.10" font-size="14.58" text-anchor="middle" textLength="46.7" lengthAdjust="spacingAndGlyphs" fill="#000">01 Feb</text>
<text x="983.90" y="1055.10" font-size="14.58" text-anchor="middle" textLength="46.7" lengthAdjust="spacingAndGlyphs" fill="#000">15 Feb</text>
<text x="1100.90" y="1055.10" font-size="14.58" text-anchor="middle" textLength="48.3" lengthAdjust="spacingAndGlyphs" fill="#000">01 Mar</text>
<text x="34.20" y="917.00" font-size="23.33" text-anchor="middle" textLength="61.2" lengthAdjust="spacingAndGlyphs" fill="#000" transform="rotate(-90 34.20 917.00)">Index</text>
<text x="74.80" y="785.80" font-size="26.25" text-anchor="start" textLength="357.1" lengthAdjust="spacingAndGlyphs" fill="#000">1000mb Z (10 day Forecast)</text>
<text x="1184.10" y="785.30" font-size="21.88" text-anchor="end" textLength="369.9" lengthAdjust="spacingAndGlyphs" fill="#000">mean=-0.6781; cor(w/obs)=0.7424</text>
<g clip-path="url(#c3)">
<polygon points="73.8,1225.8 82.1,1230.8 90.5,1236.2 98.8,1238.2 107.2,1226.2 115.5,1215.8 123.9,1211.2 132.2,1217.5 140.6,1211.8 148.9,1207.0 157.3,1205.5 165.7,1205.5 174.0,1205.5 182.4,1202.5 190.7,1202.5 199.1,1206.2 207.4,1210.8 215.8,1215.8 224.1,1218.8 232.5,1220.5 240.9,1221.2 249.2,1218.0 257.6,1224.5 265.9,1222.5 274.3,1228.8 282.6,1226.2 291.0,1228.2 299.3,1225.0 307.7,1220.0 316.1,1221.2 324.4,1222.5 332.8,1226.8 341.1,1226.8 349.5,1226.2 357.8,1225.2 366.2,1225.5 374.5,1221.2 382.9,1215.0 391.3,1206.2 399.6,1197.0 408.0,1189.2 416.3,1185.5 424.7,1192.0 433.0,1191.2 441.4,1198.0 449.7,1202.5 458.1,1220.5 466.5,1225.8 474.8,1222.0 483.2,1212.5 491.5,1198.8 499.9,1196.2 508.2,1195.0 516.6,1199.5 524.9,1195.5 533.3,1198.0 541.7,1206.2 550.0,1202.5 558.4,1200.0 566.7,1195.5 575.1,1206.2 583.4,1207.5 591.8,1208.8 600.1,1211.2 608.5,1214.5 616.9,1210.0 625.2,1200.0 633.6,1201.0 641.9,1207.5 650.3,1216.2 658.6,1223.8 667.0,1228.8 675.3,1231.2 683.7,1227.5 692.0,1222.5 700.4,1221.2 708.8,1226.2 717.1,1223.8 725.5,1218.8 733.8,1212.5 742.2,1219.5 750.5,1221.2 758.9,1222.5 767.2,1225.0 775.6,1231.2 784.0,1235.8 792.3,1234.5 800.7,1233.0 809.0,1232.0 817.4,1234.5 825.7,1234.5 834.1,1244.5 842.4,1247.5 850.8,1253.8 859.2,1249.5 867.5,1248.8 875.9,1250.8 884.2,1254.2 892.6,1257.5 900.9,1257.0 909.3,1261.2 917.6,1277.5 926.0,1288.8 934.4,1293.8 942.7,1285.0 951.1,1278.2 959.4,1276.2 967.8,1269.2 976.1,1245.0 984.5,1226.2 992.8,1215.8 1001.2,1218.2 1009.6,1220.0 1017.9,1217.5 1026.3,1216.2 1034.6,1213.2 1043.0,1212.0 1051.3,1208.8 1059.7,1209.5 1068.0,1207.0 1076.4,1207.0 1084.8,1207.5 1093.1,1208.8 1101.5,1200.0 1109.8,1193.8 1118.2,1193.2 1126.5,1198.8 1134.9,1202.5 1143.2,1204.5 1151.6,1202.0 1160.0,1204.5 1168.3,1205.5 1176.7,1210.0 1185.0,1208.8 1185.0,1263.8 1176.7,1265.0 1168.3,1262.5 1160.0,1263.8 1151.6,1262.5 1143.2,1263.8 1134.9,1262.0 1126.5,1260.0 1118.2,1253.2 1109.8,1254.5 1101.5,1261.2 1093.1,1271.2 1084.8,1270.8 1076.4,1266.2 1068.0,1262.5 1059.7,1260.0 1051.3,1262.5 1043.0,1268.0 1034.6,1271.2 1026.3,1276.2 1017.9,1275.0 1009.6,1277.5 1001.2,1269.5 992.8,1275.0 984.5,1285.0 976.1,1305.0 967.8,1320.8 959.4,1331.2 951.1,1337.5 942.7,1343.8 934.4,1350.8 926.0,1341.2 917.6,1332.5 909.3,1318.8 900.9,1315.0 892.6,1312.0 884.2,1307.0 875.9,1312.5 867.5,1314.5 859.2,1313.8 850.8,1312.5 842.4,1308.0 834.1,1308.8 825.7,1305.5 817.4,1302.0 809.0,1306.2 800.7,1308.2 792.3,1307.0 784.0,1305.5 775.6,1303.8 767.2,1298.0 758.9,1292.0 750.5,1284.5 742.2,1280.5 733.8,1282.5 725.5,1293.8 717.1,1297.0 708.8,1296.8 700.4,1287.0 692.0,1293.2 683.7,1297.5 675.3,1303.2 667.0,1295.0 658.6,1285.0 650.3,1278.8 641.9,1282.0 633.6,1278.8 625.2,1276.2 616.9,1282.5 608.5,1285.8 600.1,1282.5 591.8,1278.8 583.4,1277.0 575.1,1273.8 566.7,1263.8 558.4,1264.2 550.0,1265.0 541.7,1270.0 533.3,1268.8 524.9,1268.8 516.6,1261.8 508.2,1255.5 499.9,1255.5 491.5,1262.0 483.2,1276.2 474.8,1286.8 466.5,1283.0 458.1,1278.0 449.7,1264.2 441.4,1266.2 433.0,1265.0 424.7,1263.0 416.3,1255.0 408.0,1254.2 399.6,1260.0 391.3,1268.8 382.9,1278.8 374.5,1284.5 366.2,1286.2 357.8,1287.5 349.5,1287.5 341.1,1284.5 332.8,1281.2 324.4,1276.2 316.1,1279.2 307.7,1281.8 299.3,1286.8 291.0,1285.8 282.6,1281.2 274.3,1283.8 265.9,1285.0 257.6,1288.8 249.2,1285.0 240.9,1282.5 232.5,1279.5 224.1,1276.2 215.8,1268.8 207.4,1260.8 199.1,1256.2 190.7,1249.2 182.4,1252.5 174.0,1252.0 165.7,1252.0 157.3,1253.0 148.9,1255.5 140.6,1265.0 132.2,1272.5 123.9,1270.0 115.5,1270.5 107.2,1275.8 98.8,1285.8 90.5,1283.8 82.1,1277.0 73.8,1268.8" fill="#ffd700" fill-opacity="0.75" stroke="#ffd700" stroke-opacity="0.75" stroke-width="1.2" stroke-linejoin="round"/>
</g>
<path d="M74.5 1341.50H1185.5M74.5 1321.50H1185.5M74.5 1301.50H1185.5M74.5 1281.50H1185.5M74.5 1261.50H1185.5M74.5 1221.50H1185.5M74.5 1201.50H1185.5M74.5 1181.50H1185.5M74.5 1161.50H1185.5M74.5 1140.50H1185.5M99.50 1361.50V1120.50M216.50 1361.50V1120.50M349.50 1361.50V1120.50M466.50 1361.50V1120.50M608.50 1361.50V1120.50M725.50 1361.50V1120.50M868.50 1361.50V1120.50M984.50 1361.50V1120.50M1101.50 1361.50V1120.50" stroke="#b0b0b0" stroke-width="1.11" stroke-dasharray="4.1 1.78" fill="none"/>
<g clip-path="url(#c3)">
<polyline points="73.8,1203.8 82.1,1207.5 90.5,1213.2 98.8,1208.2 107.2,1190.0 115.5,1178.8 123.9,1174.5 132.2,1191.2 140.6,1186.8 148.9,1183.8 157.3,1181.2 165.7,1180.5 174.0,1183.8 182.4,1178.0 190.7,1181.2 199.1,1178.8 207.4,1185.0 215.8,1181.8 224.1,1191.2 232.5,1186.2 240.9,1193.8 249.2,1181.8 257.6,1185.0 265.9,1178.8 274.3,1195.8 282.6,1195.8 291.0,1201.2 299.3,1199.5 307.7,1203.2 316.1,1207.5 324.4,1210.0 332.8,1212.5 341.1,1197.8 349.5,1192.5 357.8,1180.8 366.2,1193.8 374.5,1189.5 382.9,1187.5 391.3,1172.5 399.6,1166.2 408.0,1156.8 416.3,1156.2 424.7,1154.2 433.0,1153.0 441.4,1161.2 449.7,1175.0 458.1,1196.2 466.5,1201.8 474.8,1195.5 483.2,1188.2 491.5,1174.5 499.9,1174.5 508.2,1168.8 516.6,1166.2 524.9,1153.8 533.3,1163.8 541.7,1165.0 550.0,1162.5 558.4,1151.2 566.7,1155.0 575.1,1173.0 583.4,1180.0 591.8,1178.2 600.1,1178.0 608.5,1170.5 616.9,1162.5 625.2,1148.8 633.6,1159.5 641.9,1172.0 650.3,1180.8 658.6,1172.0 667.0,1175.0 675.3,1175.8 683.7,1186.2 692.0,1183.8 700.4,1190.0 708.8,1190.8 717.1,1179.5 725.5,1176.2 733.8,1180.5 742.2,1200.5 750.5,1199.5 758.9,1186.2 767.2,1185.0 775.6,1190.5 784.0,1178.8 792.3,1173.8 800.7,1168.0 809.0,1187.0 817.4,1191.8 825.7,1197.0 834.1,1209.5 842.4,1215.8 850.8,1223.2 859.2,1219.5 867.5,1216.2 875.9,1220.5 884.2,1222.0 892.6,1217.5 900.9,1213.8 909.3,1216.8 917.6,1241.2 926.0,1248.8 934.4,1254.5 942.7,1247.0 951.1,1243.2 959.4,1244.5 967.8,1242.0 976.1,1218.8 984.5,1200.0 992.8,1182.5 1001.2,1186.2 1009.6,1180.8 1017.9,1178.2 1026.3,1182.5 1034.6,1187.0 1043.0,1185.8 1051.3,1188.8 1059.7,1183.8 1068.0,1174.5 1076.4,1167.5 1084.8,1167.5 1093.1,1174.5 1101.5,1170.0 1109.8,1166.8 1118.2,1168.0 1126.5,1164.5 1134.9,1165.5 1143.2,1162.5 1151.6,1167.5 1160.0,1175.0 1168.3,1182.5 1176.7,1185.5 1185.0,1182.0" fill="none" stroke="#ff0000" stroke-width="1.1" stroke-linejoin="round" stroke-linecap="square"/>
<polyline points="73.8,1285.8 82.1,1295.8 90.5,1303.0 98.8,1310.0 107.2,1302.5 115.5,1305.5 123.9,1304.5 132.2,1305.5 140.6,1290.8 148.9,1287.5 157.3,1286.2 165.7,1286.2 174.0,1278.2 182.4,1280.8 190.7,1278.0 199.1,1286.2 207.4,1285.0 215.8,1293.2 224.1,1289.2 232.5,1298.0 240.9,1307.5 249.2,1318.2 257.6,1326.2 265.9,1320.5 274.3,1318.2 282.6,1309.5 291.0,1318.2 299.3,1323.8 307.7,1326.2 316.1,1317.5 324.4,1303.8 332.8,1307.5 341.1,1314.2 349.5,1320.5 357.8,1319.0 366.2,1312.0 374.5,1324.5 382.9,1313.2 391.3,1308.8 399.6,1287.5 408.0,1285.0 416.3,1292.5 424.7,1301.2 433.0,1311.8 441.4,1315.5 449.7,1311.8 458.1,1313.0 466.5,1308.8 474.8,1314.2 483.2,1309.5 491.5,1303.0 499.9,1292.5 508.2,1305.0 516.6,1317.5 524.9,1318.2 533.3,1307.0 541.7,1300.0 550.0,1300.5 558.4,1291.8 566.7,1296.2 575.1,1308.8 583.4,1322.5 591.8,1320.5 600.1,1315.8 608.5,1311.8 616.9,1310.0 625.2,1314.5 633.6,1314.2 641.9,1313.8 650.3,1311.2 658.6,1319.5 667.0,1335.0 675.3,1342.0 683.7,1336.8 692.0,1345.8 700.4,1339.2 708.8,1346.2 717.1,1333.8 725.5,1335.8 733.8,1328.8 742.2,1322.5 750.5,1316.2 758.9,1324.5 767.2,1330.0 775.6,1346.2 784.0,1340.0 792.3,1339.5 800.7,1338.0 809.0,1341.2 817.4,1344.2 825.7,1343.8 834.1,1341.2 842.4,1337.5 850.8,1340.0 859.2,1347.5 867.5,1348.2 875.9,1347.0 884.2,1334.5 892.6,1339.5 900.9,1340.8 909.3,1347.0 917.6,1352.5 926.0,1357.0 934.4,1370.0 942.7,1372.5 951.1,1367.5 959.4,1360.0 967.8,1347.0 976.1,1345.5 984.5,1321.2 992.8,1308.0 1001.2,1300.0 1009.6,1305.8 1017.9,1310.8 1026.3,1306.2 1034.6,1304.2 1043.0,1290.5 1051.3,1289.2 1059.7,1282.0 1068.0,1293.0 1076.4,1296.2 1084.8,1302.5 1093.1,1297.5 1101.5,1293.0 1109.8,1289.5 1118.2,1293.0 1126.5,1293.8 1134.9,1292.5 1143.2,1292.5 1151.6,1292.0 1160.0,1300.0 1168.3,1294.5 1176.7,1296.2 1185.0,1291.2" fill="none" stroke="#ff0000" stroke-width="1.1" stroke-linejoin="round" stroke-linecap="square"/>
<polyline points="73.8,1247.5 82.1,1253.8 90.5,1259.5 98.8,1261.8 107.2,1250.5 115.5,1243.0 123.9,1240.0 132.2,1245.0 140.6,1238.8 148.9,1232.5 157.3,1229.2 165.7,1228.2 174.0,1228.0 182.4,1226.8 190.7,1225.5 199.1,1230.5 207.4,1234.2 215.8,1240.0 224.1,1243.2 232.5,1247.5 240.9,1250.0 249.2,1250.8 257.6,1255.5 265.9,1253.0 274.3,1255.5 282.6,1253.0 291.0,1256.8 299.3,1255.5 307.7,1250.8 316.1,1250.0 324.4,1249.2 332.8,1253.8 341.1,1255.0 349.5,1256.5 357.8,1256.0 366.2,1255.5 374.5,1253.0 382.9,1248.2 391.3,1239.2 399.6,1229.2 408.0,1221.2 416.3,1219.5 424.7,1227.5 433.0,1228.8 441.4,1232.5 449.7,1233.2 458.1,1249.2 466.5,1253.8 474.8,1255.0 483.2,1243.8 491.5,1230.5 499.9,1225.0 508.2,1225.0 516.6,1231.2 524.9,1232.5 533.3,1233.0 541.7,1238.2 550.0,1233.8 558.4,1232.5 566.7,1229.2 575.1,1239.2 583.4,1242.0 591.8,1243.8 600.1,1247.0 608.5,1249.5 616.9,1245.0 625.2,1240.0 633.6,1238.8 641.9,1245.0 650.3,1248.2 658.6,1255.5 667.0,1262.5 675.3,1267.0 683.7,1261.2 692.0,1256.8 700.4,1253.8 708.8,1260.8 717.1,1260.5 725.5,1256.2 733.8,1247.5 742.2,1248.2 750.5,1250.8 758.9,1255.0 767.2,1259.2 775.6,1266.8 784.0,1269.5 792.3,1270.0 800.7,1270.0 809.0,1268.8 817.4,1270.0 825.7,1269.2 834.1,1276.2 842.4,1277.0 850.8,1282.5 859.2,1281.8 867.5,1281.8 875.9,1281.8 884.2,1280.5 892.6,1284.5 900.9,1285.8 909.3,1290.0 917.6,1305.0 926.0,1315.0 934.4,1322.5 942.7,1314.2 951.1,1307.5 959.4,1303.0 967.8,1294.5 976.1,1275.0 984.5,1255.5 992.8,1245.0 1001.2,1243.8 1009.6,1248.8 1017.9,1245.8 1026.3,1246.2 1034.6,1241.8 1043.0,1239.5 1051.3,1235.0 1059.7,1234.2 1068.0,1233.8 1076.4,1235.8 1084.8,1238.8 1093.1,1239.5 1101.5,1229.5 1109.8,1223.8 1118.2,1222.5 1126.5,1229.2 1134.9,1231.2 1143.2,1233.8 1151.6,1231.8 1160.0,1234.2 1168.3,1233.8 1176.7,1237.5 1185.0,1235.8" fill="none" stroke="#0000f0" stroke-width="2.0" stroke-linejoin="round" stroke-linecap="square"/>
<path d="M74.5 1241.50H1185.5" stroke="#000" stroke-width="0.72"/>
<polyline points="73.8,1246.0 82.1,1256.5 90.5,1254.8 98.8,1241.6 107.2,1222.7 115.5,1213.3 123.9,1219.5 132.2,1233.6 140.6,1247.2 148.9,1256.5 157.3,1263.7 165.7,1265.5 174.0,1262.7 182.4,1265.3 190.7,1270.3 199.1,1274.5 207.4,1268.3 215.8,1267.3 224.1,1272.5 232.5,1276.9 240.9,1273.5 249.2,1260.3 257.6,1244.0 265.9,1227.8 274.3,1220.1 282.6,1227.4 291.0,1240.8 299.3,1247.0 307.7,1244.0 316.1,1241.0 324.4,1241.2 332.8,1242.0 341.1,1239.2 349.5,1236.8 357.8,1237.4 366.2,1243.2 374.5,1249.6 382.9,1260.9 391.3,1273.5 399.6,1279.7 408.0,1274.1 416.3,1256.5 424.7,1234.8 433.0,1222.7 441.4,1216.5 449.7,1212.9 458.1,1204.5 466.5,1202.5 474.8,1198.3 483.2,1194.2 491.5,1189.0 499.9,1194.6 508.2,1205.3 516.6,1210.1 524.9,1213.1 533.3,1216.1 541.7,1221.1 550.0,1234.6 558.4,1246.6 566.7,1263.3 575.1,1272.7 583.4,1276.5 591.8,1273.5 600.1,1266.1 608.5,1267.5 616.9,1277.3 625.2,1290.4 633.6,1293.4 641.9,1280.7 650.3,1258.3 658.6,1244.2 667.0,1248.0 675.3,1264.9 683.7,1273.5 692.0,1271.1 700.4,1261.5 708.8,1253.6 717.1,1245.0 725.5,1249.2 733.8,1257.9 742.2,1264.1 750.5,1262.1 758.9,1262.9 767.2,1274.5 775.6,1281.9 784.0,1285.7 792.3,1286.0 800.7,1288.8 809.0,1297.0 817.4,1312.8 825.7,1327.7 834.1,1332.3 842.4,1325.5 850.8,1312.0 859.2,1298.8 867.5,1295.6 875.9,1302.0 884.2,1309.8 892.6,1308.0 900.9,1302.8 909.3,1302.4 917.6,1305.6 926.0,1305.6 934.4,1298.6 942.7,1287.8 951.1,1273.3 959.4,1259.5 967.8,1247.2 976.1,1234.6 984.5,1226.4 992.8,1228.0 1001.2,1235.8 1009.6,1241.8 1017.9,1242.8 1026.3,1247.0 1034.6,1248.0 1043.0,1242.8 1051.3,1237.0 1059.7,1237.6 1068.0,1240.8" fill="none" stroke="#000" stroke-width="2.8" stroke-linejoin="round" stroke-linecap="square"/>
</g>
 <rect x="74.5" y="1120.5" width="1111.0" height="241.0" fill="none" stroke="#000" stroke-width="1.11"/>
<path d="M74.0 1361.50h-4.8M74.0 1341.50h-4.8M74.0 1321.50h-4.8M74.0 1301.50h-4.8M74.0 1281.50h-4.8M74.0 1261.50h-4.8M74.0 1241.50h-4.8M74.0 1221.50h-4.8M74.0 1201.50h-4.8M74.0 1181.50h-4.8M74.0 1161.50h-4.8M74.0 1140.50h-4.8M74.0 1120.50h-4.8M99.50 1362.00v4.8M216.50 1362.00v4.8M349.50 1362.00v4.8M466.50 1362.00v4.8M608.50 1362.00v4.8M725.50 1362.00v4.8M868.50 1362.00v4.8M984.50 1362.00v4.8M1101.50 1362.00v4.8" stroke="#000" stroke-width="1.11" fill="none"/>
<text x="64.00" y="1366.30" font-size="14.58" text-anchor="end" textLength="19.6" lengthAdjust="spacingAndGlyphs" fill="#000">−6</text>
<text x="64.00" y="1346.23" font-size="14.58" text-anchor="end" textLength="19.6" lengthAdjust="spacingAndGlyphs" fill="#000">−5</text>
<text x="64.00" y="1326.17" font-size="14.58" text-anchor="end" textLength="19.6" lengthAdjust="spacingAndGlyphs" fill="#000">−4</text>
<text x="64.00" y="1306.10" font-size="14.58" text-anchor="end" textLength="19.6" lengthAdjust="spacingAndGlyphs" fill="#000">−3</text>
<text x="64.00" y="1286.03" font-size="14.58" text-anchor="end" textLength="19.6" lengthAdjust="spacingAndGlyphs" fill="#000">−2</text>
<text x="64.00" y="1265.97" font-size="14.58" text-anchor="end" textLength="19.6" lengthAdjust="spacingAndGlyphs" fill="#000">−1</text>
<text x="64.00" y="1245.90" font-size="14.58" text-anchor="end" textLength="7.9" lengthAdjust="spacingAndGlyphs" fill="#000">0</text>
<text x="64.00" y="1225.83" font-size="14.58" text-anchor="end" textLength="7.9" lengthAdjust="spacingAndGlyphs" fill="#000">1</text>
<text x="64.00" y="1205.77" font-size="14.58" text-anchor="end" textLength="7.9" lengthAdjust="spacingAndGlyphs" fill="#000">2</text>
<text x="64.00" y="1185.70" font-size="14.58" text-anchor="end" textLength="7.9" lengthAdjust="spacingAndGlyphs" fill="#000">3</text>
<text x="64.00" y="1165.63" font-size="14.58" text-anchor="end" textLength="7.9" lengthAdjust="spacingAndGlyphs" fill="#000">4</text>
<text x="64.00" y="1145.57" font-size="14.58" text-anchor="end" textLength="7.9" lengthAdjust="spacingAndGlyphs" fill="#000">5</text>
<text x="64.00" y="1125.50" font-size="14.58" text-anchor="end" textLength="7.9" lengthAdjust="spacingAndGlyphs" fill="#000">6</text>
<text x="98.90" y="1382.10" font-size="14.58" text-anchor="middle" textLength="49.2" lengthAdjust="spacingAndGlyphs" fill="#000">01 Nov</text>
<text x="215.90" y="1382.10" font-size="14.58" text-anchor="middle" textLength="49.2" lengthAdjust="spacingAndGlyphs" fill="#000">15 Nov</text>
<text x="348.90" y="1382.10" font-size="14.58" text-anchor="middle" textLength="49.0" lengthAdjust="spacingAndGlyphs" fill="#000">01 Dec</text>
<text x="465.90" y="1382.10" font-size="14.58" text-anchor="middle" textLength="49.0" lengthAdjust="spacingAndGlyphs" fill="#000">15 Dec</text>
<text x="607.90" y="1382.10" font-size="14.58" text-anchor="middle" textLength="43.5" lengthAdjust="spacingAndGlyphs" fill="#000">01 Jan</text>
<text x="724.90" y="1382.10" font-size="14.58" text-anchor="middle" textLength="43.5" lengthAdjust="spacingAndGlyphs" fill="#000">15 Jan</text>
<text x="867.90" y="1382.10" font-size="14.58" text-anchor="middle" textLength="46.7" lengthAdjust="spacingAndGlyphs" fill="#000">01 Feb</text>
<text x="983.90" y="1382.10" font-size="14.58" text-anchor="middle" textLength="46.7" lengthAdjust="spacingAndGlyphs" fill="#000">15 Feb</text>
<text x="1100.90" y="1382.10" font-size="14.58" text-anchor="middle" textLength="48.3" lengthAdjust="spacingAndGlyphs" fill="#000">01 Mar</text>
<text x="34.20" y="1243.80" font-size="23.33" text-anchor="middle" textLength="61.2" lengthAdjust="spacingAndGlyphs" fill="#000" transform="rotate(-90 34.20 1243.80)">Index</text>
<text x="74.80" y="1111.80" font-size="26.25" text-anchor="start" textLength="357.1" lengthAdjust="spacingAndGlyphs" fill="#000">1000mb Z (14 day Forecast)</text>
<text x="1184.10" y="1111.30" font-size="21.88" text-anchor="end" textLength="356.6" lengthAdjust="spacingAndGlyphs" fill="#000">mean=-0.608; cor(w/obs)=0.5181</text>
</svg>
</body></html>
